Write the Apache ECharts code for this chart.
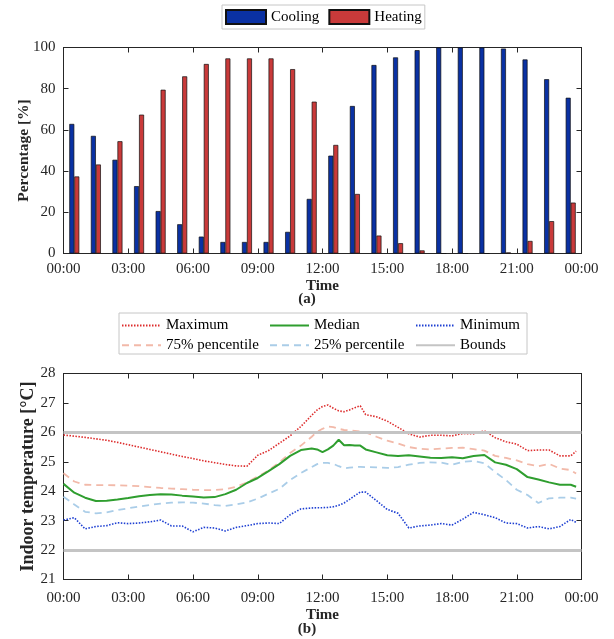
<!DOCTYPE html>
<html>
<head>
  <meta charset="utf-8">
  <script src="https://cdn.jsdelivr.net/npm/echarts@6/dist/echarts.min.js"></script>
</head>
<body style="margin: 0">
<div id="main" style="width: 614px; height: 639px"></div>
<script>
  // (a) share of hours with cooling / heating, one bar pair per hour slot
  var cooling = [62.9, 57.1, 45.5, 32.7, 20.6, 14.2, 8.2, 5.6, 5.6, 5.6, 10.5, 26.5,
                 47.5, 71.6, 91.5, 95.2, 98.7, 100, 100, 100, 99.5, 94.2, 84.6, 75.6];
  var heating = [37.4, 43.2, 54.5, 67.4, 79.5, 86, 92, 94.7, 94.7, 94.7, 89.5, 73.7,
                 52.7, 28.9, 8.7, 5, 1.5, 0, 0, 0, 0.5, 6.1, 15.7, 24.7];

  // (b) indoor temperature statistics, time in hours
  var hours = [0, 0.5, 1, 1.5, 2, 2.5, 3, 3.5, 4, 4.5, 5, 5.5, 6, 6.5, 7, 7.5, 8, 8.5, 9, 9.5, 10, 10.5, 11, 11.5,
               11.75, 12, 12.25, 12.5, 12.75, 13, 13.25, 13.5, 13.75, 14,
               14.5, 15, 15.5, 16, 16.5, 17, 17.5, 18, 18.5, 19, 19.5, 20, 20.5, 21, 21.5, 22, 22.5, 23, 23.5, 23.75];
  var tMax = [25.91, 25.87, 25.83, 25.78, 25.73, 25.66, 25.58, 25.50, 25.42, 25.34, 25.26, 25.18, 25.11, 25.03, 24.97, 24.91, 24.86, 24.85, 25.22, 25.38, 25.63, 25.88, 26.20, 26.58,
              26.76, 26.88, 26.93, 26.82, 26.73, 26.70, 26.76, 26.84, 26.90, 26.60,
              26.53, 26.38, 26.17, 25.95, 25.84, 25.90, 25.90, 25.88, 25.96, 25.95, 26.05, 25.82, 25.68, 25.60, 25.38, 25.40, 25.40, 25.20, 25.20, 25.36];
  var tP75 = [24.61, 24.33, 24.22, 24.21, 24.21, 24.20, 24.19, 24.17, 24.14, 24.11, 24.09, 24.07, 24.05, 24.04, 24.04, 24.07, 24.15, 24.30, 24.50, 24.70, 24.98, 25.30, 25.55, 25.85,
              26.02, 26.12, 26.20, 26.18, 26.12, 26.08, 26.07, 26.05, 26.03, 26.00,
              25.85, 25.72, 25.62, 25.50, 25.44, 25.42, 25.45, 25.47, 25.48, 25.43, 25.38, 25.20, 25.13, 25.05, 24.92, 24.85, 24.93, 24.77, 24.72, 24.60];
  var tMedian = [24.25, 23.95, 23.78, 23.67, 23.68, 23.72, 23.77, 23.83, 23.87, 23.90, 23.89, 23.85, 23.82, 23.79, 23.80, 23.90, 24.05, 24.28, 24.45, 24.68, 24.92, 25.20, 25.40, 25.45,
                 25.42, 25.33, 25.42, 25.55, 25.75, 25.56, 25.57, 25.55, 25.55, 25.42,
                 25.32, 25.22, 25.20, 25.22, 25.18, 25.14, 25.13, 25.15, 25.12, 25.20, 25.23, 24.98, 24.90, 24.75, 24.48, 24.40, 24.30, 24.22, 24.22, 24.15];
  var tP25 = [23.81, 23.55, 23.30, 23.25, 23.28, 23.36, 23.42, 23.48, 23.53, 23.58, 23.61, 23.62, 23.61, 23.58, 23.53, 23.50, 23.55, 23.62, 23.75, 23.92, 24.08, 24.38, 24.62, 24.82,
              24.92, 24.96, 24.96, 24.93, 24.85, 24.78, 24.80, 24.82, 24.83, 24.82,
              24.81, 24.79, 24.82, 24.90, 24.96, 24.98, 24.97, 24.90, 25.00, 25.03, 24.95, 24.65, 24.38, 24.05, 23.87, 23.60, 23.76, 23.78, 23.78, 23.75];
  var tMin = [23.02, 23.10, 22.72, 22.80, 22.83, 22.93, 22.90, 22.92, 22.96, 23.02, 22.82, 22.82, 22.62, 22.77, 22.75, 22.65, 22.77, 22.83, 22.90, 22.92, 22.90, 23.20, 23.40, 23.43,
              23.44, 23.44, 23.45, 23.47, 23.52, 23.60, 23.72, 23.85, 23.97, 23.97,
              23.68, 23.38, 23.25, 22.75, 22.82, 22.85, 22.90, 22.85, 23.05, 23.28, 23.20, 23.10, 22.92, 22.90, 22.75, 22.80, 22.72, 22.80, 23.04, 22.94];
  var boundValues = [22, 26];

  var serif = 'Liberation Serif';
  var ink = '#262626';

  function hh(v) {
    var h = v % 24;
    return (h < 10 ? '0' : '') + h + ':00';
  }
  function pts(vals) {
    return hours.map(function (h, i) { return [h, vals[i]]; });
  }

  // MATLAB style box: ticks inside, axis lines on every side
  function timeAxis(grid, pos, margin, nameGap) {
    var ax = {
      type: 'value', gridIndex: grid, position: pos, min: 0, max: 24, interval: 3,
      axisLine: {show: true, onZero: false, lineStyle: {color: ink, width: 1}},
      axisTick: {show: true, inside: true, length: 5, lineStyle: {color: ink}},
      splitLine: {show: false},
      axisLabel: {show: pos === 'bottom', formatter: hh, fontFamily: serif, fontSize: 15, color: ink, margin: margin || 7}
    };
    if (pos === 'bottom') {
      ax.name = 'Time';
      ax.nameLocation = 'middle';
      ax.nameGap = nameGap;
      ax.nameTextStyle = {fontFamily: serif, fontSize: 15, fontWeight: 'bold', color: ink};
    }
    return ax;
  }
  function valAxis(grid, pos, min, max, step, name, gap, size) {
    var ax = {
      type: 'value', gridIndex: grid, position: pos, min: min, max: max, interval: step,
      axisLine: {show: true, onZero: false, lineStyle: {color: ink, width: 1}},
      axisTick: {show: true, inside: true, length: 5, lineStyle: {color: ink}},
      splitLine: {show: false},
      axisLabel: {show: pos === 'left', fontFamily: serif, fontSize: 15, color: ink, margin: 8}
    };
    if (name) {
      ax.name = name;
      ax.nameLocation = 'middle';
      ax.nameGap = gap;
      ax.nameMoveOverlap = false;
      ax.nameTextStyle = {fontFamily: serif, fontSize: size, fontWeight: 'bold', color: ink};
    }
    return ax;
  }

  // itemStyle opacity 0 keeps the legend from drawing a marker on the line icon
  function statLine(name, vals, color, type, width) {
    return {
      name: name, type: 'line', xAxisIndex: 3, yAxisIndex: 2,
      symbol: 'none', data: pts(vals), z: 3,
      lineStyle: {color: color, type: type, width: width},
      itemStyle: {color: color, opacity: 0}
    };
  }

  var legendText = {fontFamily: serif, fontSize: 15, color: '#000'};
  function colLegend(names, left) {
    return {
      data: names, orient: 'vertical', left: left, top: 318, padding: 0,
      itemWidth: 39, itemHeight: 14, itemGap: 4.7, textStyle: legendText,
      selectedMode: false
    };
  }

  var chart = echarts.init(document.getElementById('main'));
  var option = {
    backgroundColor: '#fff',
    animation: false,
    grid: [
      {left: 63.5, top: 47.5, width: 518, height: 206},
      {left: 63.5, top: 373.5, width: 518, height: 206}
    ],
    legend: [
      {
        data: ['Cooling', 'Heating'], left: 222, top: 5, padding: [4, 3, 4, 3],
        itemWidth: 40, itemHeight: 14, itemGap: 9, icon: 'rect',
        borderColor: '#c6c6c6', borderWidth: 1, textStyle: legendText, selectedMode: false
      },
      colLegend(['Maximum', '75% pencentile'], 121),
      colLegend(['Median', '25% percentile'], 269),
      colLegend(['Minimum', 'Bounds'], 415)
    ],
    xAxis: [
      {type: 'category', gridIndex: 0, data: cooling.map(function (v, i) { return i; }), show: false},
      timeAxis(0, 'bottom', 8, 25),
      timeAxis(0, 'top'),
      timeAxis(1, 'bottom', 11, 28),
      timeAxis(1, 'top')
    ],
    yAxis: [
      valAxis(0, 'left', 0, 100, 20, 'Percentage [%]', 32, 15.5),
      valAxis(0, 'right', 0, 100, 20),
      valAxis(1, 'left', 21, 28, 1, 'Indoor temperature [°C]', 26, 18),
      valAxis(1, 'right', 21, 28, 1)
    ],
    graphic: [
      {type: 'text', left: 'center', top: 292, style: {text: '(a)', font: 'bold 15px "Liberation Serif"', fill: ink}},
      {type: 'text', left: 'center', top: 622, style: {text: '(b)', font: 'bold 15px "Liberation Serif"', fill: ink}},
      {type: 'rect', shape: {x: 119, y: 313, width: 408, height: 41}, style: {fill: 'none', stroke: '#c6c6c6', lineWidth: 1}}
    ],
    series: [
      {
        name: 'Cooling', type: 'bar', xAxisIndex: 0, yAxisIndex: 0, data: cooling,
        barWidth: 5, barGap: '0%',
        itemStyle: {color: '#0a31a3', borderColor: '#111', borderWidth: 0.7}
      },
      {
        name: 'Heating', type: 'bar', xAxisIndex: 0, yAxisIndex: 0, data: heating,
        barWidth: 5, barGap: '0%',
        itemStyle: {color: '#c93a3a', borderColor: '#111', borderWidth: 0.7}
      },
      {
        name: 'Bounds', type: 'line', xAxisIndex: 3, yAxisIndex: 2, data: [], z: 1,
        symbol: 'none',
        lineStyle: {color: '#c4c4c4', width: 3},
        itemStyle: {color: '#c4c4c4', opacity: 0},
        markLine: {
          silent: true, symbol: 'none', label: {show: false},
          lineStyle: {color: '#c4c4c4', width: 3, type: 'solid', opacity: 1},
          data: boundValues.map(function (v) { return {yAxis: v}; })
        }
      },
      statLine('75% pencentile', tP75, '#f2b9a9', [7, 5], 1.8),
      statLine('25% percentile', tP25, '#aacde8', [7, 5], 1.8),
      statLine('Maximum', tMax, '#dd2c2c', [1.5, 1.5], 1.6),
      statLine('Minimum', tMin, '#1d3fd2', [1.5, 1.5], 1.6),
      statLine('Median', tMedian, '#2f9e2f', 'solid', 2)
    ]
  };
  chart.setOption(option);
</script>
</body>
</html>
